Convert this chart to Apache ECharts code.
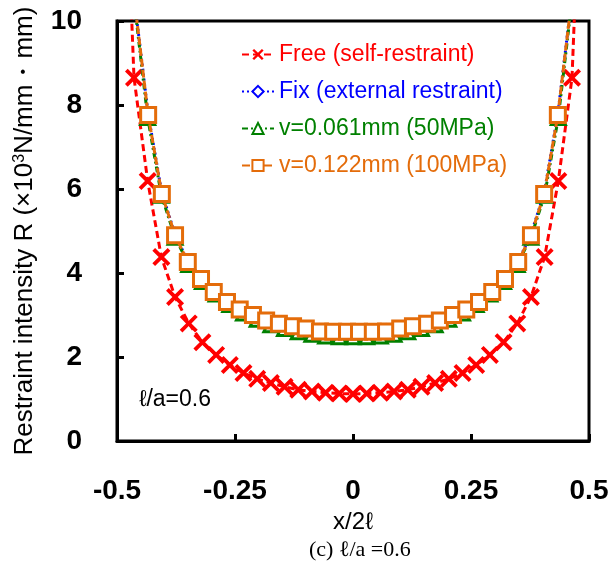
<!DOCTYPE html>
<html>
<head>
<meta charset="utf-8">
<script src="https://cdn.jsdelivr.net/npm/echarts@6/dist/echarts.min.js"></script>
<style>
  html, body { margin: 0; padding: 0; background: #fff; }
  #chart { width: 611px; height: 567px; }
</style>
</head>
<body>
<div id="chart"></div>
<script>
// x/2l positions of each series
const freeX = [-0.493, -0.464, -0.435, -0.406, -0.377, -0.348, -0.319, -0.29, -0.261, -0.232, -0.203, -0.174, -0.145, -0.116, -0.087, -0.058, -0.029,
  0, 0.029, 0.058, 0.087, 0.116, 0.145, 0.174, 0.203, 0.232, 0.261, 0.29, 0.319, 0.348, 0.377, 0.406, 0.435, 0.464, 0.493]
const freeR = [17, 8.65, 6.19, 4.38, 3.43, 2.8, 2.35, 2.05, 1.81, 1.62, 1.48, 1.38, 1.29, 1.22, 1.18, 1.15, 1.13,
  1.12, 1.13, 1.15, 1.18, 1.22, 1.29, 1.38, 1.48, 1.62, 1.81, 2.05, 2.35, 2.8, 3.43, 4.38, 6.19, 8.65, 17]

const fixX = [-0.462, -0.434, -0.405, -0.377, -0.35, -0.322, -0.295, -0.267, -0.24, -0.212, -0.184, -0.157, -0.127, -0.1, -0.07, -0.042, -0.0127,
  0.0127, 0.042, 0.07, 0.1, 0.127, 0.157, 0.184, 0.212, 0.24, 0.267, 0.295, 0.322, 0.35, 0.377, 0.405, 0.434, 0.462]
const fixR = [10.4, 7.78, 5.9, 4.92, 4.27, 3.87, 3.56, 3.32, 3.14, 3.01, 2.88, 2.8, 2.74, 2.69, 2.63, 2.62, 2.62,
  2.62, 2.62, 2.63, 2.69, 2.74, 2.8, 2.88, 3.01, 3.14, 3.32, 3.56, 3.87, 4.27, 4.92, 5.9, 7.78, 10.4]

const v50X = [-0.464, -0.435, -0.406, -0.377, -0.348, -0.319, -0.29, -0.261, -0.232, -0.203, -0.174, -0.145, -0.116, -0.087, -0.058, -0.029,
  0, 0.029, 0.058, 0.087, 0.116, 0.145, 0.174, 0.203, 0.232, 0.261, 0.29, 0.319, 0.348, 0.377, 0.406, 0.435, 0.464]
const v50R = [10.5, 7.7, 5.85, 4.85, 4.2, 3.8, 3.5, 3.25, 3.05, 2.9, 2.77, 2.68, 2.6, 2.54, 2.5, 2.48,
  2.48, 2.48, 2.5, 2.54, 2.6, 2.68, 2.77, 2.9, 3.05, 3.25, 3.5, 3.8, 4.2, 4.85, 5.85, 7.7, 10.5]

const v100X = [-0.462, -0.434, -0.405, -0.377, -0.35, -0.322, -0.295, -0.267, -0.24, -0.212, -0.184, -0.157, -0.127, -0.1, -0.07, -0.042, -0.0127,
  0.0127, 0.042, 0.07, 0.1, 0.127, 0.157, 0.184, 0.212, 0.24, 0.267, 0.295, 0.322, 0.35, 0.377, 0.405, 0.434, 0.462]
const v100R = [10.4, 7.76, 5.88, 4.9, 4.26, 3.86, 3.55, 3.31, 3.13, 3.0, 2.87, 2.79, 2.73, 2.68, 2.61, 2.6, 2.6,
  2.6, 2.6, 2.61, 2.68, 2.73, 2.79, 2.87, 3.0, 3.13, 3.31, 3.55, 3.86, 4.26, 4.9, 5.88, 7.76, 10.4]

const seriesNames = ['Free (self-restraint)', 'Fix (external restraint)', 'v=0.061mm (50MPa)', 'v=0.122mm (100MPa)']
const seriesColors = ['#ff0000', '#0000ff', '#008000', '#e46c0a']

const pairs = (xs, ys) => xs.map((x, i) => [x, ys[i]])

const crossPath = 'path://M1.5,0 L5,3.5 L8.5,0 L10,1.5 L6.5,5 L10,8.5 L8.5,10 L5,6.5 L1.5,10 L0,8.5 L3.5,5 L0,1.5 Z'
const font = 'Liberation Sans, Arial, sans-serif'

const chart = echarts.init(document.getElementById('chart'))
chart.setOption({
  animation: false,
  grid: {
    left: 117, right: 22, top: 21, bottom: 126,
    outerBoundsMode: 'none',
    show: true, borderColor: '#000', borderWidth: 3,
  },
  legend: {
    orient: 'vertical',
    left: 236,
    top: 38,
    itemWidth: 32,
    itemHeight: 14,
    itemGap: 14,
    textStyle: { fontSize: 23, fontFamily: font },
    data: seriesNames.map((name, i) => ({ name, textStyle: { color: seriesColors[i] } })),
  },
  xAxis: {
    type: 'value',
    min: -0.5,
    max: 0.5,
    interval: 0.25,
    name: 'x/2ℓ',
    nameLocation: 'middle',
    nameGap: 62,
    nameTextStyle: { fontSize: 24, color: '#000', fontFamily: font },
    axisLine: { onZero: false, lineStyle: { color: '#000', width: 3 } },
    axisTick: { inside: true, length: 7, lineStyle: { color: '#000', width: 3 } },
    axisLabel: { color: '#000', fontSize: 28, fontWeight: 'bold', fontFamily: font, margin: 36 },
    splitLine: { show: false },
  },
  yAxis: {
    type: 'value',
    min: 0,
    max: 10,
    interval: 2,
    name: 'Restraint intensity R (×10{s|3}N/mm・mm)',
    nameLocation: 'middle',
    nameRotate: 90,
    nameGap: 79,
    nameMoveOverlap: false,
    nameTextStyle: {
      fontSize: 26, color: '#000', fontFamily: font,
      rich: { s: { fontSize: 16, verticalAlign: 'top', color: '#000', fontFamily: font } },
    },
    axisLine: { onZero: false, lineStyle: { color: '#000', width: 3 } },
    axisTick: { inside: true, length: 7, lineStyle: { color: '#000', width: 3 } },
    axisLabel: { color: '#000', fontSize: 28, fontWeight: 'bold', fontFamily: font, margin: 35 },
    splitLine: { show: false },
  },
  graphic: [
    {
      type: 'text', left: 139, top: 388,
      style: { text: 'ℓ/a=0.6', fontSize: 23, fontFamily: font, fill: '#000' },
    },
    {
      type: 'text', left: 309, top: 539,
      style: { text: '(c) ℓ/a =0.6', fontSize: 22, fontFamily: 'Liberation Serif, Times New Roman, serif', fill: '#000' },
    },
  ],
  series: [
    {
      name: seriesNames[0],
      type: 'line',
      data: pairs(freeX, freeR),
      symbol: crossPath,
      symbolSize: 18,
      itemStyle: { color: seriesColors[0] },
      lineStyle: { color: seriesColors[0], width: 3, type: [7, 4] },
      z: 2,
    },
    {
      name: seriesNames[1],
      type: 'line',
      data: pairs(fixX, fixR),
      symbol: 'diamond',
      symbolSize: 12,
      itemStyle: { color: '#fff', borderColor: seriesColors[1], borderWidth: 2.5 },
      lineStyle: { color: seriesColors[1], width: 3, type: [2, 3] },
      z: 3,
    },
    {
      name: seriesNames[2],
      type: 'line',
      data: pairs(v50X, v50R),
      symbol: 'triangle',
      symbolSize: 14,
      itemStyle: { color: '#fff', borderColor: seriesColors[2], borderWidth: 3 },
      lineStyle: { color: seriesColors[2], width: 3, type: [6, 3, 2, 3] },
      z: 4,
    },
    {
      name: seriesNames[3],
      type: 'line',
      data: pairs(v100X, v100R),
      symbol: 'rect',
      symbolSize: 15,
      itemStyle: { color: '#fff', borderColor: seriesColors[3], borderWidth: 3 },
      lineStyle: { color: seriesColors[3], width: 3, type: [8, 3] },
      z: 5,
    },
  ],
})
</script>
</body>
</html>
